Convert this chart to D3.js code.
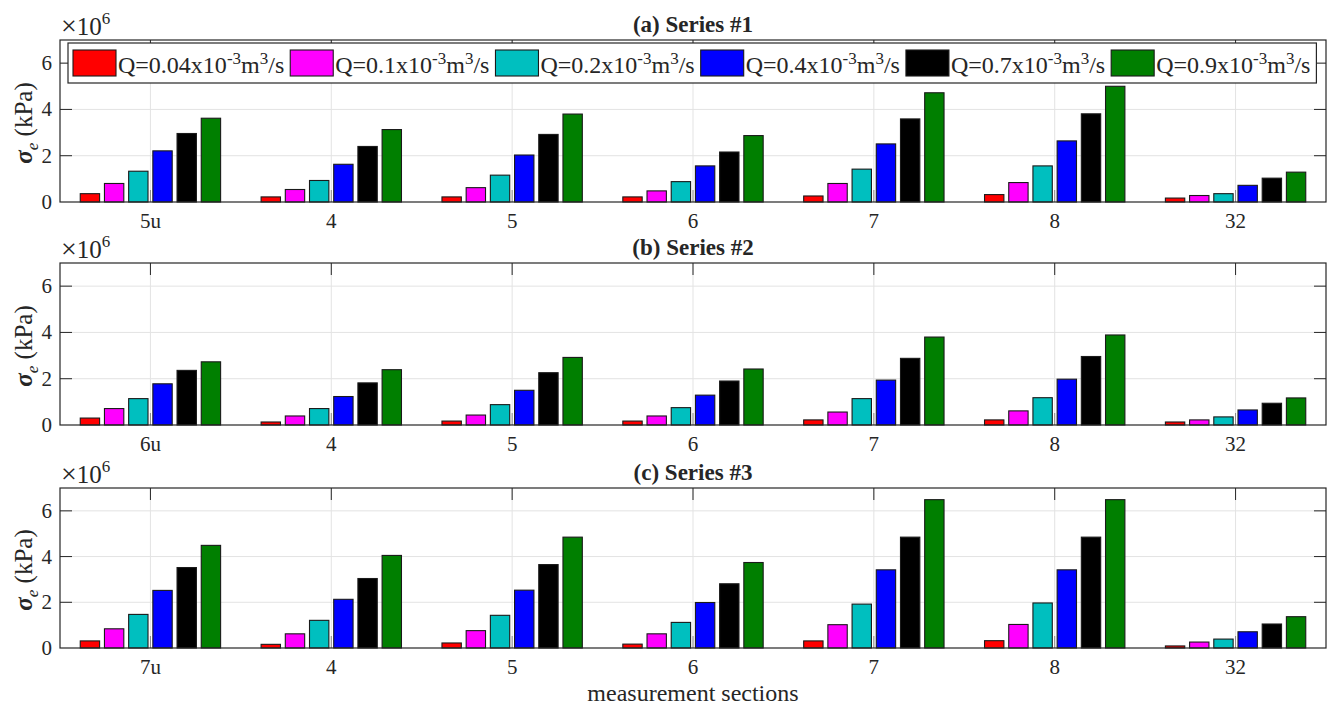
<!DOCTYPE html>
<html>
<head>
<meta charset="utf-8">
<script src="https://cdn.jsdelivr.net/npm/d3@7"></script>
<style>
body { margin: 0; background: white; }
text { font-family: "Liberation Serif", "Times New Roman", serif; fill: #262626; }
</style>
</head>
<body>
<script>

// values are in units of 10^6 kPa
const flowRates = ["0.04", "0.1", "0.2", "0.4", "0.7", "0.9"];
const colors = ["#ff0000", "#ff00ff", "#00bfbf", "#0000ff", "#000000", "#007f00"];

const labelsA = ["5u", "4", "5", "6", "7", "8", "32"];
const labelsB = ["6u", "4", "5", "6", "7", "8", "32"];
const labelsC = ["7u", "4", "5", "6", "7", "8", "32"];

const titles = ["(a) Series #1", "(b) Series #2", "(c) Series #3"];
const yTicks = [0, 2, 4, 6];

// rows = flow rate, columns = measurement section
const series1 = [
  [0.36, 0.22, 0.22, 0.22, 0.26, 0.32, 0.17],
  [0.80, 0.54, 0.62, 0.48, 0.80, 0.84, 0.28],
  [1.33, 0.93, 1.16, 0.88, 1.42, 1.56, 0.36],
  [2.21, 1.63, 2.03, 1.56, 2.51, 2.64, 0.72],
  [2.96, 2.40, 2.92, 2.16, 3.59, 3.81, 1.03],
  [3.62, 3.13, 3.80, 2.87, 4.72, 5.00, 1.29]
];
const series2 = [
  [0.30, 0.13, 0.17, 0.17, 0.22, 0.22, 0.13],
  [0.71, 0.39, 0.43, 0.39, 0.56, 0.61, 0.22],
  [1.14, 0.71, 0.88, 0.75, 1.14, 1.18, 0.35],
  [1.78, 1.23, 1.50, 1.29, 1.94, 1.98, 0.65],
  [2.36, 1.82, 2.26, 1.90, 2.88, 2.96, 0.94],
  [2.73, 2.39, 2.92, 2.42, 3.80, 3.89, 1.17]
];
const series3 = [
  [0.31, 0.16, 0.22, 0.17, 0.31, 0.32, 0.09],
  [0.84, 0.62, 0.76, 0.62, 1.02, 1.03, 0.26],
  [1.47, 1.21, 1.43, 1.12, 1.92, 1.97, 0.39],
  [2.52, 2.13, 2.53, 1.99, 3.42, 3.42, 0.71],
  [3.52, 3.04, 3.65, 2.81, 4.85, 4.85, 1.05],
  [4.49, 4.05, 4.85, 3.74, 6.49, 6.49, 1.37]
];

const panels = [
  {labels: labelsA, data: series1, top: 40, bottom: 202},
  {labels: labelsB, data: series2, top: 263, bottom: 425},
  {labels: labelsC, data: series3, top: 488, bottom: 648}
];

const W = 1328, H = 708;
const left = 60, right = 1326;
const tickLen = 12;
const axisColor = "#262626";
const gridColor = "#e3e3e3";

const svg = d3.select("body").append("svg")
  .attr("width", W).attr("height", H);

const x = d3.scaleBand().domain(d3.range(7)).range([left, right]).padding(0);
const xSub = d3.scaleBand().domain(d3.range(flowRates.length))
  .range([-72.6, 72.6]).paddingInner(0.2).paddingOuter(0.1);

panels.forEach((p, pi) => {
  const y = d3.scaleLinear().domain([0, 7]).range([p.bottom, p.top]);
  const g = svg.append("g");
  const cx = i => x(i) + x.bandwidth() / 2;

  // grid
  g.append("g").selectAll("line").data(yTicks.slice(1)).join("line")
    .attr("x1", left).attr("x2", right)
    .attr("y1", d => y(d)).attr("y2", d => y(d))
    .attr("stroke", gridColor);
  g.append("g").selectAll("line").data(d3.range(7)).join("line")
    .attr("x1", cx).attr("x2", cx)
    .attr("y1", p.top).attr("y2", p.bottom)
    .attr("stroke", gridColor);

  // bottom ticks sit behind the bars
  g.append("g").selectAll("line").data(d3.range(7)).join("line")
    .attr("x1", cx).attr("x2", cx)
    .attr("y1", p.bottom).attr("y2", p.bottom - tickLen)
    .attr("stroke", "#888");

  // bars
  p.data.forEach((row, si) => {
    g.append("g").selectAll("rect").data(row).join("rect")
      .attr("x", (d, i) => cx(i) + xSub(si))
      .attr("width", xSub.bandwidth())
      .attr("y", d => y(d))
      .attr("height", d => y(0) - y(d))
      .attr("fill", colors[si])
      .attr("stroke", "#1a1a1a")
      .attr("stroke-width", 1.1);
  });

  // box and inward ticks
  g.append("rect")
    .attr("x", left).attr("y", p.top)
    .attr("width", right - left).attr("height", p.bottom - p.top)
    .attr("fill", "none").attr("stroke", axisColor).attr("stroke-width", 1.2);
  g.append("g").selectAll("line").data(d3.range(7)).join("line")
    .attr("x1", cx).attr("x2", cx)
    .attr("y1", p.top).attr("y2", p.top + tickLen)
    .attr("stroke", axisColor);
  [[left, tickLen], [right, -tickLen]].forEach(([x0, dx]) => {
    g.append("g").selectAll("line").data(yTicks.slice(1)).join("line")
      .attr("x1", x0).attr("x2", x0 + dx)
      .attr("y1", d => y(d)).attr("y2", d => y(d))
      .attr("stroke", axisColor);
  });

  // tick labels
  g.append("g").selectAll("text").data(yTicks).join("text")
    .attr("x", left - 8).attr("y", d => y(d) + 7)
    .attr("text-anchor", "end").attr("font-size", 21)
    .text(d => d);
  g.append("g").selectAll("text").data(p.labels).join("text")
    .attr("x", (d, i) => cx(i)).attr("y", p.bottom + 26)
    .attr("text-anchor", "middle").attr("font-size", 21)
    .text(d => d);

  // exponent
  const ex = g.append("text").attr("x", left + 1).attr("y", p.top - 5).attr("font-size", 25);
  ex.append("tspan").attr("font-size", 28).text("\u00d7");
  ex.append("tspan").text("10");
  ex.append("tspan").attr("dy", -11).attr("font-size", 17).text("6");

  // title
  g.append("text").attr("x", (left + right) / 2).attr("y", p.top - 8)
    .attr("text-anchor", "middle").attr("font-size", 23).attr("font-weight", "bold")
    .attr("fill", "#000")
    .text(titles[pi]);

  // y label
  const yl = g.append("text")
    .attr("transform", `translate(32, ${(p.top + p.bottom) / 2 + 2}) rotate(-90)`)
    .attr("text-anchor", "middle").attr("font-size", 25);
  yl.append("tspan").attr("font-weight", "bold").attr("font-style", "italic").text("\u03c3");
  yl.append("tspan").attr("font-style", "italic").attr("font-size", 17).attr("dy", 6).text("e");
  yl.append("tspan").attr("dy", -6).text(" (kPa)");
});

// legend (top panel)
const lg = svg.append("g");
const lgBox = lg.append("rect")
  .attr("x", 68).attr("y", 43).attr("width", 1248).attr("height", 40)
  .attr("fill", "white").attr("stroke", axisColor).attr("stroke-width", 1.2);
let lx = 73;
flowRates.forEach((q, i) => {
  lg.append("rect").attr("x", lx).attr("y", 50).attr("width", 43).attr("height", 26)
    .attr("fill", colors[i]).attr("stroke", "#1a1a1a").attr("stroke-width", 1.1);
  const t = lg.append("text").attr("x", lx + 45).attr("y", 73).attr("font-size", 24);
  t.append("tspan").text(`Q=${q}x10`);
  t.append("tspan").attr("dy", -9).attr("font-size", 17).text("-3");
  t.append("tspan").attr("dy", 9).text("m");
  t.append("tspan").attr("dy", -9).attr("font-size", 17).text("3");
  t.append("tspan").attr("dy", 9).text("/s");
  lx += 45 + t.node().getComputedTextLength() + 6;
});
lgBox.attr("width", lx - 68);

// x axis label
svg.append("text").attr("x", (left + right) / 2).attr("y", 701)
  .attr("text-anchor", "middle").attr("font-size", 24)
  .text("measurement sections");

</script>
</body>
</html>
